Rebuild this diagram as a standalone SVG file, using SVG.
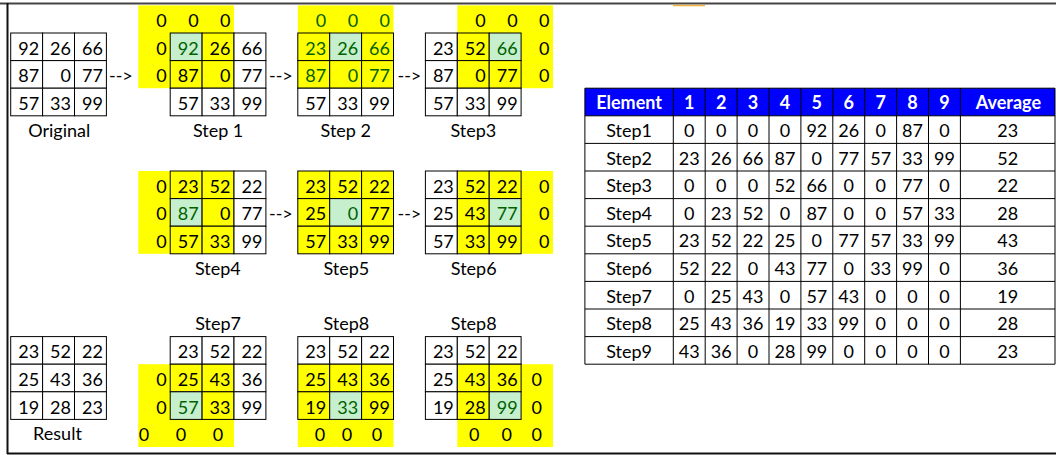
<svg xmlns="http://www.w3.org/2000/svg" width="1056" height="455" viewBox="0 0 1056 455">
<style>
.w{fill:#fff;stroke:#000;stroke-width:1}
.y{fill:#ffff00;stroke:#000;stroke-width:1}
.g{fill:#c6efce;stroke:#000;stroke-width:1}
.yb{fill:#ffff00}
text{font-family:Lato,"Open Sans",sans-serif;font-size:18px;fill:#000}
.n{text-anchor:end}
.m{text-anchor:middle}
.gt{fill:#006100}
.h{fill:#fff;font-weight:bold;text-anchor:middle}
.tl{stroke:#000;stroke-width:1;fill:none}
</style>
<rect x="0" y="0" width="1056" height="455" fill="#fff"/>
<g id="frame">
<line x1="0" y1="3.5" x2="1056" y2="3.5" stroke="#444" stroke-width="2"/>
<line x1="7.5" y1="3" x2="7.5" y2="454" stroke="#111" stroke-width="2"/>
<line x1="7" y1="453.5" x2="1056" y2="453.5" stroke="#111" stroke-width="2"/>
<line x1="673" y1="5.5" x2="705" y2="5.5" stroke="#f0b040" stroke-width="1.5"/>
</g>

<g id="original" transform="translate(10.7,33)">
<rect class="w" x="0" y="0" width="31.9" height="27.6"/><rect class="w" x="31.9" y="0" width="31.9" height="27.6"/><rect class="w" x="63.8" y="0" width="31.9" height="27.6"/>
<rect class="w" x="0" y="27.6" width="31.9" height="27.6"/><rect class="w" x="31.9" y="27.6" width="31.9" height="27.6"/><rect class="w" x="63.8" y="27.6" width="31.9" height="27.6"/>
<rect class="w" x="0" y="55.2" width="31.9" height="27.6"/><rect class="w" x="31.9" y="55.2" width="31.9" height="27.6"/><rect class="w" x="63.8" y="55.2" width="31.9" height="27.6"/>
<text class="n" x="28.4" y="21.8">92</text><text class="n" x="60.3" y="21.8">26</text><text class="n" x="92.2" y="21.8">66</text>
<text class="n" x="28.4" y="49.4">87</text><text class="n" x="60.3" y="49.4">0</text><text class="n" x="92.2" y="49.4">77</text>
<text class="n" x="28.4" y="77">57</text><text class="n" x="60.3" y="77">33</text><text class="n" x="92.2" y="77">99</text>
<text class="m" x="48.5" y="103.8">Original</text>
</g>

<g id="step1" transform="translate(170.2,33)">
<rect class="yb" x="-31.9" y="-27.6" width="95.7" height="82.8"/>
<rect class="g" x="0" y="0" width="31.9" height="27.6"/><rect class="y" x="31.9" y="0" width="31.9" height="27.6"/><rect class="w" x="63.8" y="0" width="31.9" height="27.6"/>
<rect class="y" x="0" y="27.6" width="31.9" height="27.6"/><rect class="y" x="31.9" y="27.6" width="31.9" height="27.6"/><rect class="w" x="63.8" y="27.6" width="31.9" height="27.6"/>
<rect class="w" x="0" y="55.2" width="31.9" height="27.6"/><rect class="w" x="31.9" y="55.2" width="31.9" height="27.6"/><rect class="w" x="63.8" y="55.2" width="31.9" height="27.6"/>
<text class="n" x="-3.5" y="-5.8">0</text><text class="n" x="28.4" y="-5.8">0</text><text class="n" x="60.3" y="-5.8">0</text>
<text class="n" x="-3.5" y="21.8">0</text><text class="n" x="-3.5" y="49.4">0</text>
<text class="n gt" x="28.4" y="21.8">92</text><text class="n" x="60.3" y="21.8">26</text><text class="n" x="92.2" y="21.8">66</text>
<text class="n" x="28.4" y="49.4">87</text><text class="n" x="60.3" y="49.4">0</text><text class="n" x="92.2" y="49.4">77</text>
<text class="n" x="28.4" y="77">57</text><text class="n" x="60.3" y="77">33</text><text class="n" x="92.2" y="77">99</text>
<text class="m" x="47.9" y="103.8">Step 1</text>
</g>

<g id="step2" transform="translate(297.8,33)">
<rect class="yb" x="0" y="-27.6" width="95.7" height="82.8"/>
<rect class="y" x="0" y="0" width="31.9" height="27.6"/><rect class="g" x="31.9" y="0" width="31.9" height="27.6"/><rect class="y" x="63.8" y="0" width="31.9" height="27.6"/>
<rect class="y" x="0" y="27.6" width="31.9" height="27.6"/><rect class="y" x="31.9" y="27.6" width="31.9" height="27.6"/><rect class="y" x="63.8" y="27.6" width="31.9" height="27.6"/>
<rect class="w" x="0" y="55.2" width="31.9" height="27.6"/><rect class="w" x="31.9" y="55.2" width="31.9" height="27.6"/><rect class="w" x="63.8" y="55.2" width="31.9" height="27.6"/>
<text class="n gt" x="28.4" y="-5.8">0</text><text class="n gt" x="60.3" y="-5.8">0</text><text class="n gt" x="92.2" y="-5.8">0</text>
<text class="n gt" x="28.4" y="21.8">23</text><text class="n gt" x="60.3" y="21.8">26</text><text class="n gt" x="92.2" y="21.8">66</text>
<text class="n gt" x="28.4" y="49.4">87</text><text class="n gt" x="60.3" y="49.4">0</text><text class="n gt" x="92.2" y="49.4">77</text>
<text class="n" x="28.4" y="77">57</text><text class="n" x="60.3" y="77">33</text><text class="n" x="92.2" y="77">99</text>
<text class="m" x="48" y="103.8">Step 2</text>
</g>

<g id="step3" transform="translate(425.4,33)">
<rect class="yb" x="31.9" y="-27.6" width="95.7" height="82.8"/>
<rect class="w" x="0" y="0" width="31.9" height="27.6"/><rect class="y" x="31.9" y="0" width="31.9" height="27.6"/><rect class="g" x="63.8" y="0" width="31.9" height="27.6"/>
<rect class="w" x="0" y="27.6" width="31.9" height="27.6"/><rect class="y" x="31.9" y="27.6" width="31.9" height="27.6"/><rect class="y" x="63.8" y="27.6" width="31.9" height="27.6"/>
<rect class="w" x="0" y="55.2" width="31.9" height="27.6"/><rect class="w" x="31.9" y="55.2" width="31.9" height="27.6"/><rect class="w" x="63.8" y="55.2" width="31.9" height="27.6"/>
<text class="n" x="60.3" y="-5.8">0</text><text class="n" x="92.2" y="-5.8">0</text><text class="n" x="124.1" y="-5.8">0</text>
<text class="n" x="124.1" y="21.8">0</text><text class="n" x="124.1" y="49.4">0</text>
<text class="n" x="28.4" y="21.8">23</text><text class="n" x="60.3" y="21.8">52</text><text class="n gt" x="92.2" y="21.8">66</text>
<text class="n" x="28.4" y="49.4">87</text><text class="n" x="60.3" y="49.4">0</text><text class="n" x="92.2" y="49.4">77</text>
<text class="n" x="28.4" y="77">57</text><text class="n" x="60.3" y="77">33</text><text class="n" x="92.2" y="77">99</text>
<text class="m" x="48" y="103.8">Step3</text>
</g>

<g id="step4" transform="translate(170.2,171)">
<rect class="yb" x="-31.9" y="0" width="95.7" height="82.8"/>
<rect class="y" x="0" y="0" width="31.9" height="27.6"/><rect class="y" x="31.9" y="0" width="31.9" height="27.6"/><rect class="w" x="63.8" y="0" width="31.9" height="27.6"/>
<rect class="g" x="0" y="27.6" width="31.9" height="27.6"/><rect class="y" x="31.9" y="27.6" width="31.9" height="27.6"/><rect class="w" x="63.8" y="27.6" width="31.9" height="27.6"/>
<rect class="y" x="0" y="55.2" width="31.9" height="27.6"/><rect class="y" x="31.9" y="55.2" width="31.9" height="27.6"/><rect class="w" x="63.8" y="55.2" width="31.9" height="27.6"/>
<text class="n" x="-3.5" y="21.8">0</text><text class="n" x="-3.5" y="49.4">0</text><text class="n" x="-3.5" y="77">0</text>
<text class="n" x="28.4" y="21.8">23</text><text class="n" x="60.3" y="21.8">52</text><text class="n" x="92.2" y="21.8">22</text>
<text class="n gt" x="28.4" y="49.4">87</text><text class="n" x="60.3" y="49.4">0</text><text class="n" x="92.2" y="49.4">77</text>
<text class="n" x="28.4" y="77">57</text><text class="n" x="60.3" y="77">33</text><text class="n" x="92.2" y="77">99</text>
<text class="m" x="47.6" y="103.8">Step4</text>
</g>

<g id="step5" transform="translate(297.8,171)">
<rect class="y" x="0" y="0" width="31.9" height="27.6"/><rect class="y" x="31.9" y="0" width="31.9" height="27.6"/><rect class="y" x="63.8" y="0" width="31.9" height="27.6"/>
<rect class="y" x="0" y="27.6" width="31.9" height="27.6"/><rect class="g" x="31.9" y="27.6" width="31.9" height="27.6"/><rect class="y" x="63.8" y="27.6" width="31.9" height="27.6"/>
<rect class="y" x="0" y="55.2" width="31.9" height="27.6"/><rect class="y" x="31.9" y="55.2" width="31.9" height="27.6"/><rect class="y" x="63.8" y="55.2" width="31.9" height="27.6"/>
<text class="n" x="28.4" y="21.8">23</text><text class="n" x="60.3" y="21.8">52</text><text class="n" x="92.2" y="21.8">22</text>
<text class="n" x="28.4" y="49.4">25</text><text class="n gt" x="60.3" y="49.4">0</text><text class="n" x="92.2" y="49.4">77</text>
<text class="n" x="28.4" y="77">57</text><text class="n" x="60.3" y="77">33</text><text class="n" x="92.2" y="77">99</text>
<text class="m" x="48.5" y="103.8">Step5</text>
</g>

<g id="step6" transform="translate(425.4,171)">
<rect class="yb" x="31.9" y="0" width="95.7" height="82.8"/>
<rect class="w" x="0" y="0" width="31.9" height="27.6"/><rect class="y" x="31.9" y="0" width="31.9" height="27.6"/><rect class="y" x="63.8" y="0" width="31.9" height="27.6"/>
<rect class="w" x="0" y="27.6" width="31.9" height="27.6"/><rect class="y" x="31.9" y="27.6" width="31.9" height="27.6"/><rect class="g" x="63.8" y="27.6" width="31.9" height="27.6"/>
<rect class="w" x="0" y="55.2" width="31.9" height="27.6"/><rect class="y" x="31.9" y="55.2" width="31.9" height="27.6"/><rect class="y" x="63.8" y="55.2" width="31.9" height="27.6"/>
<text class="n" x="124.1" y="21.8">0</text><text class="n" x="124.1" y="49.4">0</text><text class="n" x="124.1" y="77">0</text>
<text class="n" x="28.4" y="21.8">23</text><text class="n" x="60.3" y="21.8">52</text><text class="n" x="92.2" y="21.8">22</text>
<text class="n" x="28.4" y="49.4">25</text><text class="n" x="60.3" y="49.4">43</text><text class="n gt" x="92.2" y="49.4">77</text>
<text class="n" x="28.4" y="77">57</text><text class="n" x="60.3" y="77">33</text><text class="n" x="92.2" y="77">99</text>
<text class="m" x="48.3" y="103.8">Step6</text>
</g>

<g id="result" transform="translate(10.7,336.6)">
<rect class="w" x="0" y="0" width="31.9" height="27.6"/><rect class="w" x="31.9" y="0" width="31.9" height="27.6"/><rect class="w" x="63.8" y="0" width="31.9" height="27.6"/>
<rect class="w" x="0" y="27.6" width="31.9" height="27.6"/><rect class="w" x="31.9" y="27.6" width="31.9" height="27.6"/><rect class="w" x="63.8" y="27.6" width="31.9" height="27.6"/>
<rect class="w" x="0" y="55.2" width="31.9" height="27.6"/><rect class="w" x="31.9" y="55.2" width="31.9" height="27.6"/><rect class="w" x="63.8" y="55.2" width="31.9" height="27.6"/>
<text class="n" x="28.4" y="21.8">23</text><text class="n" x="60.3" y="21.8">52</text><text class="n" x="92.2" y="21.8">22</text>
<text class="n" x="28.4" y="49.4">25</text><text class="n" x="60.3" y="49.4">43</text><text class="n" x="92.2" y="49.4">36</text>
<text class="n" x="28.4" y="77">19</text><text class="n" x="60.3" y="77">28</text><text class="n" x="92.2" y="77">23</text>
<text class="m" x="46.8" y="103.8">Result</text>
</g>

<g id="step7" transform="translate(170.2,336.6)">
<text class="m" x="47.9" y="-6.6">Step7</text>
<rect class="yb" x="-31.9" y="27.6" width="95.7" height="82.8"/>
<rect class="w" x="0" y="0" width="31.9" height="27.6"/><rect class="w" x="31.9" y="0" width="31.9" height="27.6"/><rect class="w" x="63.8" y="0" width="31.9" height="27.6"/>
<rect class="y" x="0" y="27.6" width="31.9" height="27.6"/><rect class="y" x="31.9" y="27.6" width="31.9" height="27.6"/><rect class="w" x="63.8" y="27.6" width="31.9" height="27.6"/>
<rect class="g" x="0" y="55.2" width="31.9" height="27.6"/><rect class="y" x="31.9" y="55.2" width="31.9" height="27.6"/><rect class="w" x="63.8" y="55.2" width="31.9" height="27.6"/>
<text class="n" x="-3.5" y="49.4">0</text><text class="n" x="-3.5" y="77">0</text>
<text class="m" x="-26.2" y="104.6">0</text><text class="m" x="10.8" y="104.6">0</text><text class="m" x="47.8" y="104.6">0</text>
<text class="n" x="28.4" y="21.8">23</text><text class="n" x="60.3" y="21.8">52</text><text class="n" x="92.2" y="21.8">22</text>
<text class="n" x="28.4" y="49.4">25</text><text class="n" x="60.3" y="49.4">43</text><text class="n" x="92.2" y="49.4">36</text>
<text class="n gt" x="28.4" y="77">57</text><text class="n" x="60.3" y="77">33</text><text class="n" x="92.2" y="77">99</text>
</g>

<g id="step8a" transform="translate(297.8,336.6)">
<text class="m" x="48.5" y="-6.6">Step8</text>
<rect class="yb" x="0" y="27.6" width="95.7" height="82.8"/>
<rect class="w" x="0" y="0" width="31.9" height="27.6"/><rect class="w" x="31.9" y="0" width="31.9" height="27.6"/><rect class="w" x="63.8" y="0" width="31.9" height="27.6"/>
<rect class="y" x="0" y="27.6" width="31.9" height="27.6"/><rect class="y" x="31.9" y="27.6" width="31.9" height="27.6"/><rect class="y" x="63.8" y="27.6" width="31.9" height="27.6"/>
<rect class="y" x="0" y="55.2" width="31.9" height="27.6"/><rect class="g" x="31.9" y="55.2" width="31.9" height="27.6"/><rect class="y" x="63.8" y="55.2" width="31.9" height="27.6"/>
<text class="m" x="22.2" y="104.6">0</text><text class="m" x="49.2" y="104.6">0</text><text class="m" x="79.2" y="104.6">0</text>
<text class="n" x="28.4" y="21.8">23</text><text class="n" x="60.3" y="21.8">52</text><text class="n" x="92.2" y="21.8">22</text>
<text class="n" x="28.4" y="49.4">25</text><text class="n" x="60.3" y="49.4">43</text><text class="n" x="92.2" y="49.4">36</text>
<text class="n" x="28.4" y="77">19</text><text class="n gt" x="60.3" y="77">33</text><text class="n" x="92.2" y="77">99</text>
</g>

<g id="step8b" transform="translate(425.4,336.6)">
<text class="m" x="48.3" y="-6.6">Step8</text>
<rect class="yb" x="31.9" y="27.6" width="95.7" height="82.8"/>
<rect class="w" x="0" y="0" width="31.9" height="27.6"/><rect class="w" x="31.9" y="0" width="31.9" height="27.6"/><rect class="w" x="63.8" y="0" width="31.9" height="27.6"/>
<rect class="w" x="0" y="27.6" width="31.9" height="27.6"/><rect class="y" x="31.9" y="27.6" width="31.9" height="27.6"/><rect class="y" x="63.8" y="27.6" width="31.9" height="27.6"/>
<rect class="w" x="0" y="55.2" width="31.9" height="27.6"/><rect class="y" x="31.9" y="55.2" width="31.9" height="27.6"/><rect class="g" x="63.8" y="55.2" width="31.9" height="27.6"/>
<text class="m" x="111.3" y="49.4">0</text><text class="m" x="111.3" y="77">0</text>
<text class="m" x="48.9" y="104.6">0</text><text class="m" x="81.3" y="104.6">0</text><text class="m" x="111.3" y="104.6">0</text>
<text class="n" x="28.4" y="21.8">23</text><text class="n" x="60.3" y="21.8">52</text><text class="n" x="92.2" y="21.8">22</text>
<text class="n" x="28.4" y="49.4">25</text><text class="n" x="60.3" y="49.4">43</text><text class="n" x="92.2" y="49.4">36</text>
<text class="n" x="28.4" y="77">19</text><text class="n" x="60.3" y="77">28</text><text class="n gt" x="92.2" y="77">99</text>
</g>

<g id="connectors">
<text x="109" y="82.4">--&gt;</text>
<text x="269" y="82.4">--&gt;</text>
<text x="397.5" y="82.4">--&gt;</text>
<text x="269" y="220.4">--&gt;</text>
<text x="397.5" y="220.4">--&gt;</text>
</g>

<g id="table" transform="translate(584.9,88.2)">
<rect x="0" y="0" width="470.1" height="27.6" fill="#0000ff"/>
<path class="tl" d="M0,0H470.1M0,27.6H470.1M0,55.2H470.1M0,82.8H470.1M0,110.4H470.1M0,138H470.1M0,165.6H470.1M0,193.2H470.1M0,220.8H470.1M0,248.4H470.1M0,276H470.1"/>
<path class="tl" stroke="#333" d="M0,0V276M88.4,0V276M120.3,0V276M152.2,0V276M184.1,0V276M216,0V276M247.9,0V276M279.8,0V276M311.7,0V276M343.6,0V276M375.5,0V276M470.1,0V276"/>
<g class="h">
<text class="h" x="44.2" y="21.3">Element</text>
<text class="h" x="104.35" y="21.3">1</text><text class="h" x="136.25" y="21.3">2</text><text class="h" x="168.15" y="21.3">3</text><text class="h" x="200.05" y="21.3">4</text><text class="h" x="231.95" y="21.3">5</text><text class="h" x="263.85" y="21.3">6</text><text class="h" x="295.75" y="21.3">7</text><text class="h" x="327.65" y="21.3">8</text><text class="h" x="359.55" y="21.3">9</text>
<text class="h" x="423.5" y="21.3">Average</text>
</g>
<g class="m">
<text class="m" x="44.2" y="48.9">Step1</text><text class="m" x="104.35" y="48.9">0</text><text class="m" x="136.25" y="48.9">0</text><text class="m" x="168.15" y="48.9">0</text><text class="m" x="200.05" y="48.9">0</text><text class="m" x="231.95" y="48.9">92</text><text class="m" x="263.85" y="48.9">26</text><text class="m" x="295.75" y="48.9">0</text><text class="m" x="327.65" y="48.9">87</text><text class="m" x="359.55" y="48.9">0</text><text class="m" x="422.8" y="48.9">23</text>
<text class="m" x="44.2" y="76.5">Step2</text><text class="m" x="104.35" y="76.5">23</text><text class="m" x="136.25" y="76.5">26</text><text class="m" x="168.15" y="76.5">66</text><text class="m" x="200.05" y="76.5">87</text><text class="m" x="231.95" y="76.5">0</text><text class="m" x="263.85" y="76.5">77</text><text class="m" x="295.75" y="76.5">57</text><text class="m" x="327.65" y="76.5">33</text><text class="m" x="359.55" y="76.5">99</text><text class="m" x="422.8" y="76.5">52</text>
<text class="m" x="44.2" y="104.1">Step3</text><text class="m" x="104.35" y="104.1">0</text><text class="m" x="136.25" y="104.1">0</text><text class="m" x="168.15" y="104.1">0</text><text class="m" x="200.05" y="104.1">52</text><text class="m" x="231.95" y="104.1">66</text><text class="m" x="263.85" y="104.1">0</text><text class="m" x="295.75" y="104.1">0</text><text class="m" x="327.65" y="104.1">77</text><text class="m" x="359.55" y="104.1">0</text><text class="m" x="422.8" y="104.1">22</text>
<text class="m" x="44.2" y="131.7">Step4</text><text class="m" x="104.35" y="131.7">0</text><text class="m" x="136.25" y="131.7">23</text><text class="m" x="168.15" y="131.7">52</text><text class="m" x="200.05" y="131.7">0</text><text class="m" x="231.95" y="131.7">87</text><text class="m" x="263.85" y="131.7">0</text><text class="m" x="295.75" y="131.7">0</text><text class="m" x="327.65" y="131.7">57</text><text class="m" x="359.55" y="131.7">33</text><text class="m" x="422.8" y="131.7">28</text>
<text class="m" x="44.2" y="159.3">Step5</text><text class="m" x="104.35" y="159.3">23</text><text class="m" x="136.25" y="159.3">52</text><text class="m" x="168.15" y="159.3">22</text><text class="m" x="200.05" y="159.3">25</text><text class="m" x="231.95" y="159.3">0</text><text class="m" x="263.85" y="159.3">77</text><text class="m" x="295.75" y="159.3">57</text><text class="m" x="327.65" y="159.3">33</text><text class="m" x="359.55" y="159.3">99</text><text class="m" x="422.8" y="159.3">43</text>
<text class="m" x="44.2" y="186.9">Step6</text><text class="m" x="104.35" y="186.9">52</text><text class="m" x="136.25" y="186.9">22</text><text class="m" x="168.15" y="186.9">0</text><text class="m" x="200.05" y="186.9">43</text><text class="m" x="231.95" y="186.9">77</text><text class="m" x="263.85" y="186.9">0</text><text class="m" x="295.75" y="186.9">33</text><text class="m" x="327.65" y="186.9">99</text><text class="m" x="359.55" y="186.9">0</text><text class="m" x="422.8" y="186.9">36</text>
<text class="m" x="44.2" y="214.5">Step7</text><text class="m" x="104.35" y="214.5">0</text><text class="m" x="136.25" y="214.5">25</text><text class="m" x="168.15" y="214.5">43</text><text class="m" x="200.05" y="214.5">0</text><text class="m" x="231.95" y="214.5">57</text><text class="m" x="263.85" y="214.5">43</text><text class="m" x="295.75" y="214.5">0</text><text class="m" x="327.65" y="214.5">0</text><text class="m" x="359.55" y="214.5">0</text><text class="m" x="422.8" y="214.5">19</text>
<text class="m" x="44.2" y="242.1">Step8</text><text class="m" x="104.35" y="242.1">25</text><text class="m" x="136.25" y="242.1">43</text><text class="m" x="168.15" y="242.1">36</text><text class="m" x="200.05" y="242.1">19</text><text class="m" x="231.95" y="242.1">33</text><text class="m" x="263.85" y="242.1">99</text><text class="m" x="295.75" y="242.1">0</text><text class="m" x="327.65" y="242.1">0</text><text class="m" x="359.55" y="242.1">0</text><text class="m" x="422.8" y="242.1">28</text>
<text class="m" x="44.2" y="269.7">Step9</text><text class="m" x="104.35" y="269.7">43</text><text class="m" x="136.25" y="269.7">36</text><text class="m" x="168.15" y="269.7">0</text><text class="m" x="200.05" y="269.7">28</text><text class="m" x="231.95" y="269.7">99</text><text class="m" x="263.85" y="269.7">0</text><text class="m" x="295.75" y="269.7">0</text><text class="m" x="327.65" y="269.7">0</text><text class="m" x="359.55" y="269.7">0</text><text class="m" x="422.8" y="269.7">23</text>
</g>
</g>
</svg>
